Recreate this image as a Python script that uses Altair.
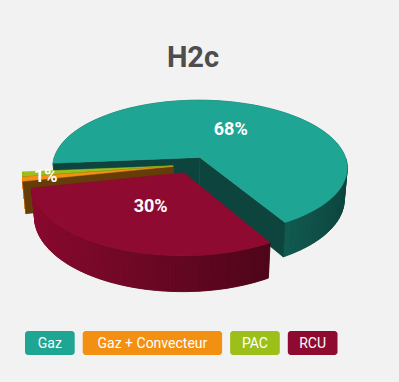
import altair as alt
import pandas as pd

# ---- data -------------------------------------------------------------
categories = ["Gaz", "Gaz + Convecteur", "PAC", "RCU"]
values = [68, 1, 1, 30]
colors = ["#1fa593", "#f39012", "#9dbf1a", "#8e0a30"]
# clockwise order of the slices around the pie
pie_sequence = ["Gaz", "RCU", "Gaz + Convecteur", "PAC"]
# painting order for the side walls (far slices first)
back_to_front = ["Gaz", "PAC", "Gaz + Convecteur", "RCU"]
title_text = "H2c"

source = pd.DataFrame({"category": categories, "value": values})

# ---- 3D pie geometry (unit radius, perspective projection) -------------
W, H = 399, 382
CX, CY, S = 191.5, 164.8, 148.0        # screen centre and pixels per unit
DIST, SIN_A, COS_A = 5.88, 0.459, 0.888  # camera distance and tilt
THICK, EXPLODE = 0.245, 0.125
START_DEG = 175
N = 96

seq_js = "[" + ",".join("'%s'" % c for c in pie_sequence) + "]"
cats_js = "[" + ",".join("'%s'" % c for c in categories) + "]"
pal_js = "[" + ",".join("'%s'" % c for c in colors) + "]"

DC = f"({DIST} - datum.Z*{COS_A} - datum.h*{SIN_A})"
SX = f"datum.X*{DIST}/{DC}"
SY = f"(datum.Z*{SIN_A} - datum.h*{COS_A})*{DIST}/{DC}"

SHADED = (
    "'rgb(' + round(datum.base_col.r*datum.shade) + ',' + "
    "round(datum.base_col.g*datum.shade) + ',' + "
    "round(datum.base_col.b*datum.shade) + ')'"
)

x_scale = alt.Scale(domain=[-CX / S, (W - CX) / S], nice=False, zero=False)
y_scale = alt.Scale(domain=[-CY / S, (H - CY) / S], nice=False, zero=False, reverse=True)
color_scale = alt.Scale(domain=categories, range=colors)

X_ENC = alt.X("sx:Q", scale=x_scale, axis=None)
Y_ENC = alt.Y("sy:Q", scale=y_scale, axis=None)


def slice_base():
    return (
        alt.Chart(source)
        .transform_calculate(seq=f"indexof({seq_js}, datum.category)")
        .transform_joinaggregate(total="sum(value)")
        .transform_window(cum="sum(value)", sort=[alt.SortField("seq")], frame=[None, 0])
        .transform_calculate(a0=f"{START_DEG}*PI/180 + 2*PI*(datum.cum - datum.value)/datum.total")
        .transform_calculate(a1=f"{START_DEG}*PI/180 + 2*PI*datum.cum/datum.total")
        .transform_calculate(am="(datum.a0 + datum.a1)/2")
        .transform_calculate(ox=f"{EXPLODE}*cos(datum.am)")
        .transform_calculate(oz=f"{EXPLODE}*sin(datum.am)")
        .transform_calculate(base_col=f"rgb({pal_js}[indexof({cats_js}, datum.category)])")
    )


def project(chart):
    return (
        chart.transform_calculate(X="datum.ox + datum.r*cos(datum.ang)")
        .transform_calculate(Z="datum.oz + datum.r*sin(datum.ang)")
        .transform_calculate(sx=SX)
        .transform_calculate(sy=SY)
    )


def wall_underlay(cat):
    # one flat-coloured band for the whole outer wall of the slice
    base = project(
        slice_base()
        .transform_filter(alt.datum.category == cat)
        .transform_calculate(k=f"sequence(0, {2 * N + 2})")
        .transform_flatten(["k"])
        .transform_calculate(
            ang=f"datum.a0 + (datum.a1 - datum.a0)*"
            f"(datum.k <= {N} ? datum.k : {2 * N + 1} - datum.k)/{N}"
        )
        .transform_calculate(r="1")
        .transform_calculate(h=f"datum.k <= {N} ? 0 : -{THICK}")
        .transform_calculate(shade="0.55")
        .transform_calculate(wall=SHADED)
    )
    return base.mark_line(interpolate="linear-closed", strokeWidth=0.5).encode(
        x=X_ENC,
        y=Y_ENC,
        order=alt.Order("k:Q"),
        fill=alt.Fill("wall:N", scale=None, legend=None),
        stroke=alt.Stroke("wall:N", scale=None, legend=None),
    )


def wall_shading(cat):
    # outer wall split in N shaded quads plus the two radial cut faces
    base = (
        slice_base()
        .transform_filter(alt.datum.category == cat)
        .transform_calculate(p=f"sequence(0, {N + 2})")
        .transform_flatten(["p"])
        .transform_calculate(c="sequence(0, 4)")
        .transform_flatten(["c"])
        .transform_calculate(
            mid=f"datum.a0 + (datum.a1 - datum.a0)*(datum.p + 0.5)/{N}"
        )
        .transform_calculate(
            visible=f"datum.p < {N} ? sin(datum.mid) > 0 : "
            f"(datum.p == {N} ? -cos(datum.a0) > 0 : cos(datum.a1) > 0)"
        )
        .transform_filter("datum.visible")
        .transform_calculate(
            ang=f"datum.p < {N} ? datum.a0 + (datum.a1 - datum.a0)*"
            f"(datum.p + ((datum.c == 1 || datum.c == 2) ? 1 : 0))/{N} : "
            f"(datum.p == {N} ? datum.a0 : datum.a1)"
        )
        .transform_calculate(
            r=f"datum.p < {N} ? 1 : ((datum.c == 1 || datum.c == 2) ? 1 : 0)"
        )
        .transform_calculate(h=f"datum.c >= 2 ? -{THICK} : 0")
        .transform_calculate(
            shade=f"datum.p < {N} ? 0.7 - 0.3*cos(datum.mid) : 0.42"
        )
        .transform_calculate(wall=SHADED)
    )
    base = project(base)
    return base.mark_line(
        interpolate="linear-closed", strokeWidth=0.6, strokeJoin="bevel"
    ).encode(
        x=X_ENC,
        y=Y_ENC,
        order=alt.Order("c:Q"),
        detail="p:N",
        fill=alt.Fill("wall:N", scale=None, legend=None),
        stroke=alt.Stroke("wall:N", scale=None, legend=None),
    )


tops = project(
    slice_base()
    .transform_calculate(k=f"sequence(0, {N + 2})")
    .transform_flatten(["k"])
    .transform_calculate(ang=f"datum.a0 + (datum.a1 - datum.a0)*min(datum.k, {N})/{N}")
    .transform_calculate(r=f"datum.k <= {N} ? 1 : 0")
    .transform_calculate(h="0")
).mark_line(interpolate="linear-closed", strokeWidth=0.5).encode(
    x=X_ENC,
    y=Y_ENC,
    order=alt.Order("k:Q"),
    detail="category:N",
    fill=alt.Fill("category:N", scale=color_scale, legend=None),
    stroke=alt.Stroke("category:N", scale=color_scale, legend=None),
)

labels = project(
    slice_base()
    .transform_window(prev="lag(value)", sort=[alt.SortField("seq")])
    .transform_calculate(share="datum.value/datum.total")
    .transform_filter(
        "datum.share >= 0.02 || datum.prev == null || datum.prev/datum.total >= 0.02"
    )
    .transform_calculate(r="datum.share >= 0.05 ? 0.5 : 0.85")
    .transform_calculate(ang="datum.am")
    .transform_calculate(h="0")
    .transform_calculate(label="format(datum.share, '.0%')")
).mark_text(
    font="Roboto", fontWeight="bold", fontSize=18, color="white",
    align="center", baseline="middle",
).encode(x=X_ENC, y=Y_ENC, text="label:N")

title = alt.Chart(pd.DataFrame({"t": [title_text]})).mark_text(
    font="Roboto", fontWeight="bold", fontSize=29, color="#4d4d4d",
    align="center", baseline="alphabetic",
).encode(x=alt.value(193), y=alt.value(67), text="t:N")

# legend chips under the pie
legend_base = (
    alt.Chart(source)
    .transform_calculate(idx=f"indexof({cats_js}, datum.category)")
    .transform_calculate(w="29 + 6.9*length(datum.category)")
    .transform_window(wsum="sum(w)", sort=[alt.SortField("idx")], frame=[None, 0])
    .transform_calculate(x1="25 + datum.wsum - datum.w + 8*datum.idx")
    .transform_calculate(x2="datum.x1 + datum.w")
    .transform_calculate(xm="datum.x1 + datum.w/2")
)
px_scale = alt.Scale(domain=[0, W], nice=False, zero=False)
legend_boxes = legend_base.mark_rect(cornerRadius=3).encode(
    x=alt.X("x1:Q", scale=px_scale, axis=None),
    x2="x2:Q",
    y=alt.value(331),
    y2=alt.value(355),
    fill=alt.Fill("category:N", scale=color_scale, legend=None),
)
legend_text = legend_base.mark_text(
    font="Roboto", fontSize=14, color="white", align="center", baseline="middle"
).encode(
    x=alt.X("xm:Q", scale=px_scale, axis=None),
    y=alt.value(343.5),
    text="category:N",
)

layers = []
for cat in back_to_front:
    layers += [wall_underlay(cat), wall_shading(cat)]
layers += [tops, labels, title, legend_boxes, legend_text]

chart = (
    alt.layer(*layers)
    .resolve_scale(x="independent", y="independent")
    .properties(
        width=W, height=H, padding=0,
        autosize=alt.AutoSizeParams(type="none"),
        background="#f2f2f2",
    )
    .configure_view(stroke=None)
)

chart.save("out.html", embed_options={"renderer": "svg", "actions": False})
